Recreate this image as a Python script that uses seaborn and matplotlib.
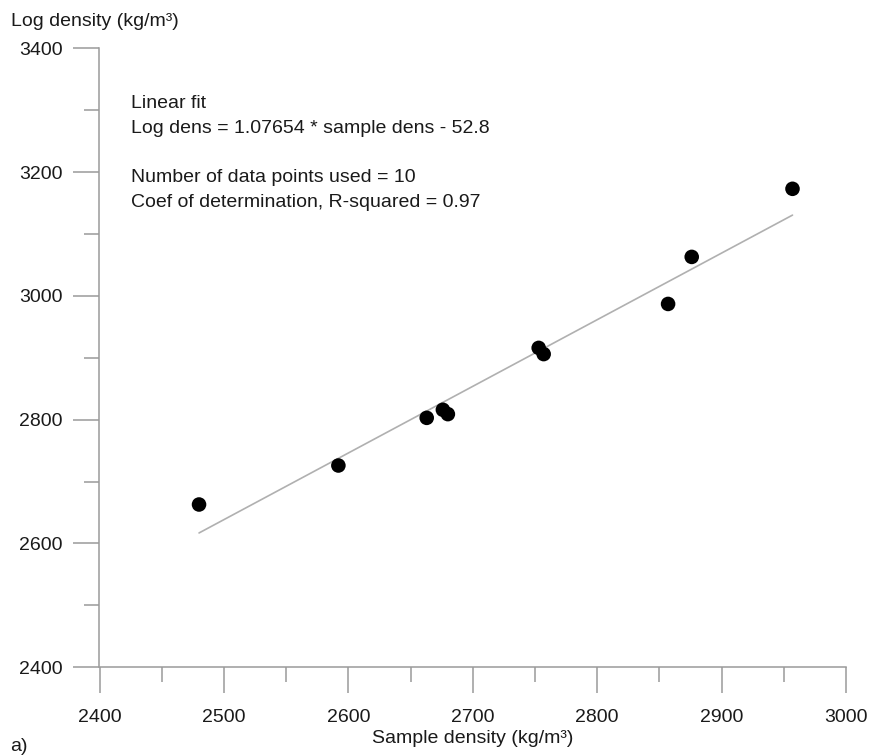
import numpy as np
import pandas as pd
import matplotlib
matplotlib.use("Agg")
import matplotlib.pyplot as plt
from matplotlib.ticker import MultipleLocator
import seaborn as sns

# ---- data ----
sample_density = [2480, 2592, 2663, 2676, 2680, 2753, 2757, 2857, 2876, 2957]
log_density = [2663, 2726, 2803, 2816, 2809, 2916, 2906, 2987, 3063, 3173]
fit_slope = 1.07654
fit_intercept = -52.8
x_ticks = [2400, 2500, 2600, 2700, 2800, 2900, 3000]
y_ticks = [2400, 2600, 2800, 3000, 3200, 3400]
annotation_lines = [
    "Linear fit",
    "Log dens = 1.07654 * sample dens - 52.8",
    "Number of data points used = 10",
    "Coef of determination, R-squared = 0.97",
]

df = pd.DataFrame({"sample": sample_density, "log": log_density})
fit_x = [min(sample_density), max(sample_density)]
fit_df = pd.DataFrame({"x": fit_x, "y": [fit_slope * v + fit_intercept for v in fit_x]})

sns.set_theme(style="ticks")
plt.rcParams["font.family"] = ["Liberation Sans", "DejaVu Sans"]

W, H = 870, 756
fig = plt.figure(figsize=(W / 100, H / 100), dpi=100)
ax = fig.add_axes([99.5 / W, 1 - 667.3 / H, (846 - 99.5) / W, (667.3 - 48.3) / H])

axis_grey = "#9a9a9a"
text_col = "#1a1a1a"
fs = 14

sns.lineplot(data=fit_df, x="x", y="y", ax=ax, color="#b0b0b0", linewidth=1.2)
sns.scatterplot(data=df, x="sample", y="log", ax=ax, color="black", s=110,
                edgecolor="none", zorder=3)

ax.set_xlim(2400, 3000)
ax.set_ylim(2400, 3400)
ax.set_xticks(x_ticks)
ax.set_yticks(y_ticks)
ax.xaxis.set_minor_locator(MultipleLocator(50))
ax.yaxis.set_minor_locator(MultipleLocator(100))
ax.set_xticklabels([str(v) for v in x_ticks])
ax.set_yticklabels([str(v) for v in y_ticks])

for s in ["top", "right"]:
    ax.spines[s].set_visible(False)
for s in ["left", "bottom"]:
    ax.spines[s].set_color(axis_grey)
    ax.spines[s].set_linewidth(1.1)

ax.tick_params(which="major", direction="out", length=18.5, width=1.1,
               color=axis_grey, labelsize=fs, labelcolor=text_col, pad=8)
ax.tick_params(which="minor", direction="out", length=10.5, width=1.1,
               color=axis_grey)
ax.tick_params(axis="x", which="major", pad=11.5)

ax.set_xlabel("Sample density (kg/m³)", fontsize=fs, color=text_col)
ax.xaxis.label.set_va("baseline")
ax.xaxis.set_label_coords(0.5, (667.3 - 743) / 619)

ax.set_ylabel("Log density (kg/m³)", fontsize=fs, color=text_col, rotation=0)
ax.yaxis.label.set_ha("left")
ax.yaxis.label.set_va("baseline")
ax.yaxis.set_label_coords((10.7 - 99.5) / 746.5, (667.3 - 26) / 619)

baselines = [108, 133, 182, 207]
for line, b in zip(annotation_lines, baselines):
    fig.text(130.7 / W, 1 - b / H, line, fontsize=fs, color=text_col,
             ha="left", va="baseline")

fig.text(10 / W, 1 / H, "a)", fontsize=fs, color=text_col,
         ha="left", va="bottom")

fig.savefig("out.png", dpi=100)
